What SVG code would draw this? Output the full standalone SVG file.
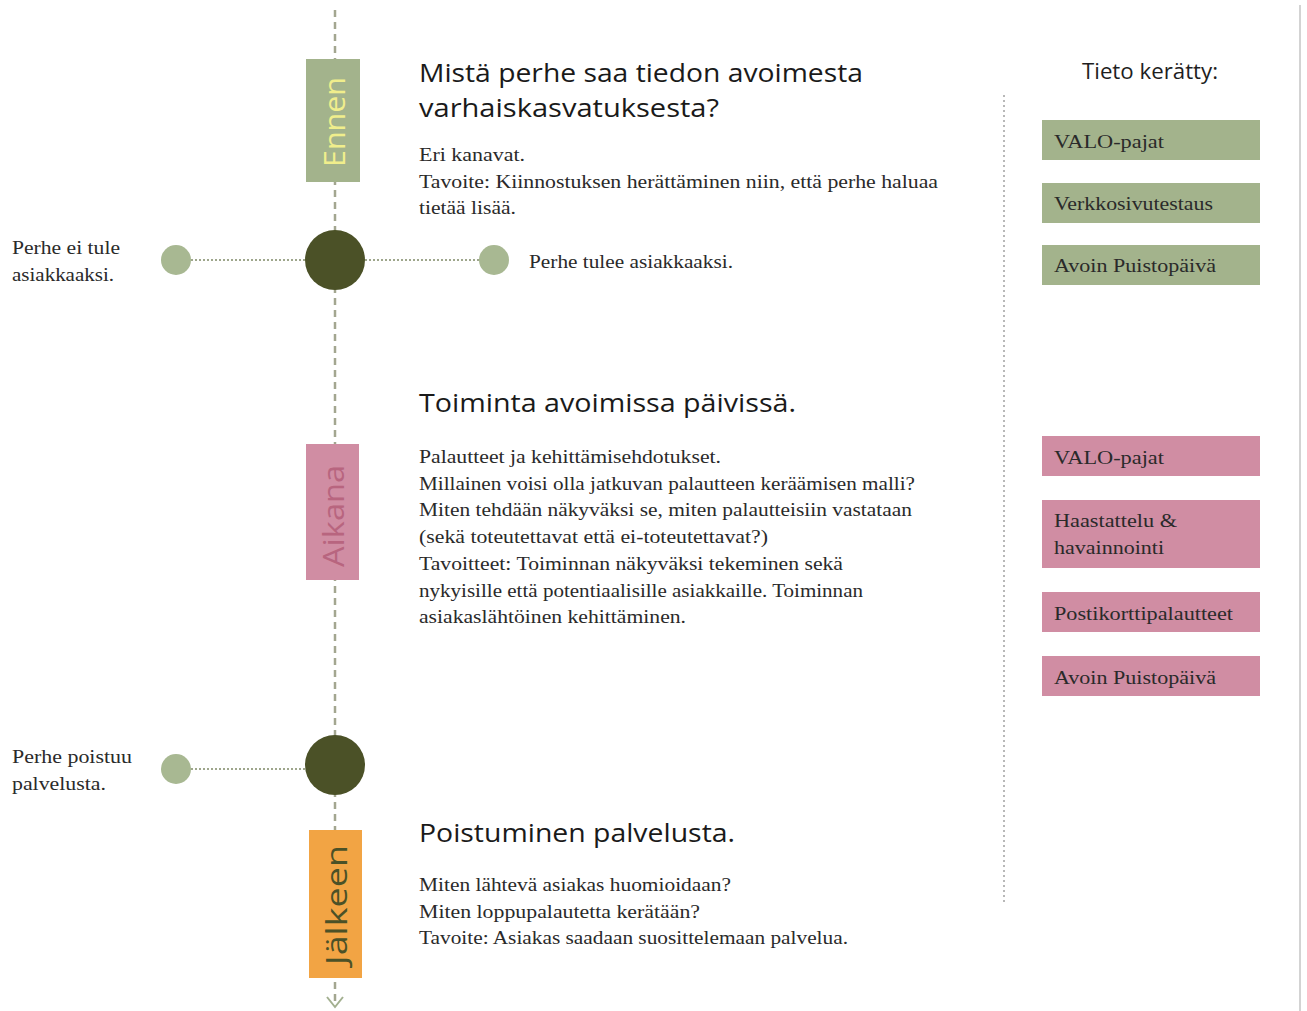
<svg xmlns="http://www.w3.org/2000/svg" width="1307" height="1011" viewBox="0 0 1307 1011">
<style>
.h{font-family:"Open Sans","DejaVu Sans",sans-serif;font-size:25px;fill:#1a1a1a}
.b{font-family:"Liberation Serif","DejaVu Serif",serif;font-size:18px;fill:#2a2a2a}
.lab{font-family:"Open Sans","DejaVu Sans",sans-serif;font-size:29px}
.g{fill:#a3b38c}
.p{fill:#d08da3}
.big{fill:#4b5127}
.small{fill:#a8b892}
.dot{stroke:#9ea68c;stroke-width:2;stroke-dasharray:2 2;fill:none}
</style>
<rect width="1307" height="1011" fill="#ffffff"/>
<line x1="1300" y1="5" x2="1300" y2="1011" stroke="#c4c4c4" stroke-width="1.5"/>
<g id="connectors">
<line x1="335" y1="10" x2="335" y2="1004" stroke="#a3a690" stroke-width="2.5" stroke-dasharray="7 5"/>
<polyline points="327,997 335,1007 343,997" fill="none" stroke="#a3b090" stroke-width="2"/>
<line class="dot" x1="191" y1="260" x2="305" y2="260"/>
<line class="dot" x1="365" y1="260" x2="479" y2="260"/>
<line class="dot" x1="191" y1="769" x2="305" y2="769"/>
<line x1="1004" y1="95" x2="1004" y2="905" stroke="#b8b8b8" stroke-width="2" stroke-dasharray="2 3"/>
</g>
<g id="ennen">
<rect x="306" y="59" width="54" height="123" fill="#a3b38c"/>
<text class="lab" transform="translate(345,122) rotate(-90)" text-anchor="middle" fill="#f0ee8c" textLength="90" lengthAdjust="spacingAndGlyphs">Ennen</text>
</g>
<g id="aikana">
<rect x="306" y="444" width="53" height="136" fill="#d08da3"/>
<text class="lab" transform="translate(344,516) rotate(-90)" text-anchor="middle" fill="#b8657f" textLength="102" lengthAdjust="spacingAndGlyphs">Aikana</text>
</g>
<g id="jalkeen">
<rect x="309" y="830" width="53" height="148" fill="#f2a444"/>
<text class="lab" transform="translate(347,905) rotate(-90)" text-anchor="middle" fill="#4b5127" textLength="120" lengthAdjust="spacingAndGlyphs">Jälkeen</text>
</g>
<g id="node1">
<circle class="big" cx="335" cy="260" r="30"/>
</g>
<g id="node2">
<circle class="big" cx="335" cy="765" r="30"/>
</g>
<g id="not-customer">
<circle class="small" cx="176" cy="260" r="15"/>
<text class="b" x="12" y="254" textLength="108" lengthAdjust="spacingAndGlyphs">Perhe ei tule</text>
<text class="b" x="12" y="281" textLength="102" lengthAdjust="spacingAndGlyphs">asiakkaaksi.</text>
</g>
<g id="customer">
<circle class="small" cx="494" cy="260" r="15"/>
<text class="b" x="529" y="268" textLength="204" lengthAdjust="spacingAndGlyphs">Perhe tulee asiakkaaksi.</text>
</g>
<g id="leaves">
<circle class="small" cx="176" cy="769" r="15"/>
<text class="b" x="12" y="763" textLength="120" lengthAdjust="spacingAndGlyphs">Perhe poistuu</text>
<text class="b" x="12" y="790" textLength="94" lengthAdjust="spacingAndGlyphs">palvelusta.</text>
</g>
<g id="section1">
<text class="h" x="419" y="82" textLength="444" lengthAdjust="spacingAndGlyphs">Mistä perhe saa tiedon avoimesta</text>
<text class="h" x="419" y="117" textLength="300" lengthAdjust="spacingAndGlyphs">varhaiskasvatuksesta?</text>
<text class="b" x="419" y="161" textLength="106" lengthAdjust="spacingAndGlyphs">Eri kanavat.</text>
<text class="b" x="419" y="188" textLength="519" lengthAdjust="spacingAndGlyphs">Tavoite: Kiinnostuksen herättäminen niin, että perhe haluaa</text>
<text class="b" x="419" y="214" textLength="97" lengthAdjust="spacingAndGlyphs">tietää lisää.</text>
</g>
<g id="section2">
<text class="h" x="419" y="412" textLength="377" lengthAdjust="spacingAndGlyphs">Toiminta avoimissa päivissä.</text>
<text class="b" x="419" y="463" textLength="302" lengthAdjust="spacingAndGlyphs">Palautteet ja kehittämisehdotukset.</text>
<text class="b" x="419" y="490" textLength="496" lengthAdjust="spacingAndGlyphs">Millainen voisi olla jatkuvan palautteen keräämisen malli?</text>
<text class="b" x="419" y="516" textLength="493" lengthAdjust="spacingAndGlyphs">Miten tehdään näkyväksi se, miten palautteisiin vastataan</text>
<text class="b" x="419" y="543" textLength="349" lengthAdjust="spacingAndGlyphs">(sekä toteutettavat että ei-toteutettavat?)</text>
<text class="b" x="419" y="570" textLength="424" lengthAdjust="spacingAndGlyphs">Tavoitteet: Toiminnan näkyväksi tekeminen sekä</text>
<text class="b" x="419" y="597" textLength="444" lengthAdjust="spacingAndGlyphs">nykyisille että potentiaalisille asiakkaille. Toiminnan</text>
<text class="b" x="419" y="623" textLength="267" lengthAdjust="spacingAndGlyphs">asiakaslähtöinen kehittäminen.</text>
</g>
<g id="section3">
<text class="h" x="419" y="842" textLength="316" lengthAdjust="spacingAndGlyphs">Poistuminen palvelusta.</text>
<text class="b" x="419" y="891" textLength="312" lengthAdjust="spacingAndGlyphs">Miten lähtevä asiakas huomioidaan?</text>
<text class="b" x="419" y="918" textLength="281" lengthAdjust="spacingAndGlyphs">Miten loppupalautetta kerätään?</text>
<text class="b" x="419" y="944" textLength="429" lengthAdjust="spacingAndGlyphs">Tavoite: Asiakas saadaan suosittelemaan palvelua.</text>
</g>
<g id="tieto">
<text x="1150" y="79" text-anchor="middle" font-family="'Open Sans','DejaVu Sans',sans-serif" font-size="22" fill="#1e1e1e" textLength="136" lengthAdjust="spacingAndGlyphs">Tieto kerätty:</text>
</g>
<g id="g-valo">
<rect class="g" x="1042" y="120" width="218" height="40"/>
<text class="b" x="1054" y="148" textLength="110" lengthAdjust="spacingAndGlyphs">VALO-pajat</text>
</g>
<g id="g-verkko">
<rect class="g" x="1042" y="183" width="218" height="40"/>
<text class="b" x="1054" y="210" textLength="159" lengthAdjust="spacingAndGlyphs">Verkkosivutestaus</text>
</g>
<g id="g-avoin">
<rect class="g" x="1042" y="245" width="218" height="40"/>
<text class="b" x="1054" y="272" textLength="162" lengthAdjust="spacingAndGlyphs">Avoin Puistopäivä</text>
</g>
<g id="p-valo">
<rect class="p" x="1042" y="436" width="218" height="40"/>
<text class="b" x="1054" y="464" textLength="110" lengthAdjust="spacingAndGlyphs">VALO-pajat</text>
</g>
<g id="p-haast">
<rect class="p" x="1042" y="500" width="218" height="68"/>
<text class="b" x="1054" y="527" textLength="123" lengthAdjust="spacingAndGlyphs">Haastattelu &amp;</text>
<text class="b" x="1054" y="554" textLength="110" lengthAdjust="spacingAndGlyphs">havainnointi</text>
</g>
<g id="p-posti">
<rect class="p" x="1042" y="592" width="218" height="40"/>
<text class="b" x="1054" y="620" textLength="179" lengthAdjust="spacingAndGlyphs">Postikorttipalautteet</text>
</g>
<g id="p-avoin">
<rect class="p" x="1042" y="656" width="218" height="40"/>
<text class="b" x="1054" y="684" textLength="162" lengthAdjust="spacingAndGlyphs">Avoin Puistopäivä</text>
</g>
</svg>
